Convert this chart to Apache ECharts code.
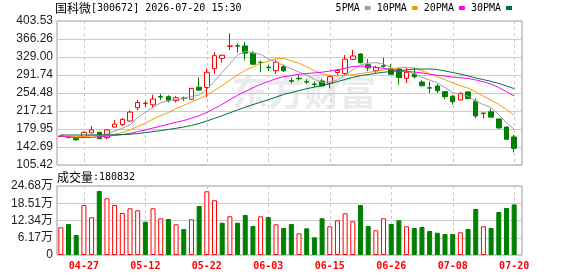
<!DOCTYPE html>
<html>
<head>
<meta charset="utf-8">
<script src="https://cdn.jsdelivr.net/npm/echarts@6/dist/echarts.min.js"></script>
<style>
  html, body { margin: 0; padding: 0; background: #ffffff; }
  #chart { width: 578px; height: 276px; }
</style>
</head>
<body>
<div id="chart"></div>
<script>
  const dates = ['04-22', '04-23', '04-24', '04-27', '04-28', '04-29', '04-30', '05-06', '05-07', '05-08',
    '05-11', '05-12', '05-13', '05-14', '05-15', '05-18', '05-19', '05-20', '05-21', '05-22',
    '05-25', '05-26', '05-27', '05-28', '05-29', '06-01', '06-02', '06-03', '06-04', '06-05',
    '06-08', '06-09', '06-10', '06-11', '06-12', '06-15', '06-16', '06-17', '06-18', '06-22',
    '06-23', '06-24', '06-25', '06-26', '06-29', '06-30', '07-01', '07-02', '07-03', '07-06',
    '07-07', '07-08', '07-09', '07-10', '07-13', '07-14', '07-15', '07-16', '07-17', '07-20']

  const opens = [164.5, 163.5, 160.5, 163.5, 172, 173, 162, 184, 189, 196.5,
    224, 232.5, 230, 247, 246.8, 238.5, 244, 241.5, 266.5, 266,
    304.8, 326.3, 351, 352.5, 352, 337, 318, 308, 300.6, 309,
    280, 285, 278, 273, 279.3, 274.6, 297, 295, 324.2, 335.2,
    313, 300.6, 311, 305, 304, 285, 293.5, 277.2, 265.5, 269,
    257.2, 247.6, 240, 256.8, 237.5, 213, 215.5, 200.7, 184, 163.5]
  const closes = [165.5, 162.5, 157.5, 173, 178, 160, 178, 190, 200, 215,
    235, 233.5, 242, 246, 238.5, 244.7, 243, 264, 260.5, 297.3,
    331.7, 332.5, 352, 351.5, 337, 314, 317.5, 307, 318.3, 300.6,
    279, 284, 277, 272, 269, 288.3, 301, 324.5, 331.1, 317.2,
    306.5, 307.2, 310, 293.2, 286.5, 297.3, 288, 269.5, 264.5, 259,
    246.8, 236.5, 253.8, 243, 207, 212, 204.5, 182, 158.6, 140]
  const lows = [163.5, 160, 156, 163, 171, 159, 159, 183, 186, 195,
    219, 226, 225, 240, 235, 235, 238, 240, 259, 246,
    293.8, 317.2, 343.5, 338, 322, 313, 297.3, 300, 294, 298,
    274.6, 280, 273, 266, 268, 265, 291, 292, 323, 316,
    300, 296, 306.9, 292, 272, 275, 285, 268, 254, 254.5,
    242, 230.3, 239, 242, 202, 202, 203.5, 181, 158, 131.5]
  const highs = [167, 166, 161.5, 174.5, 186, 174, 179, 198.5, 202.5, 218.5,
    240, 238, 251, 253, 249.7, 248, 247, 265, 287, 305.6,
    338.7, 334, 378, 357.4, 360, 341, 321.4, 313, 323.3, 313,
    287, 291, 283, 278, 284, 290.5, 304, 333, 343.5, 336.5,
    324.9, 311, 327.7, 314, 307, 307, 307, 281, 278, 273,
    258, 250.3, 256, 258, 243.5, 214, 222, 202, 185, 167.5]

  const volumes = [99100, 110900, 71500, 178900, 134900, 228900, 202800, 178900, 150200, 167000,
    159900, 119100, 167000, 131300, 128800, 109800, 93000, 127700, 175300, 227900,
    195700, 115500, 138400, 115500, 143100, 103700, 138400, 135900, 109800, 96600,
    110900, 77600, 95500, 63300, 131300, 102700, 124100, 149200, 120600, 178900,
    103700, 88400, 131300, 110900, 124100, 102700, 96600, 100200, 85900, 79800,
    75100, 75100, 81200, 93000, 164500, 102700, 96600, 153800, 168100, 180832]
  // 1 = red hollow bar, 0 = green bar
  const volUp = [1, 0, 0, 1, 1, 0, 1, 1, 1, 1,
    1, 0, 1, 1, 0, 1, 0, 1, 0, 1,
    1, 0, 1, 0, 0, 0, 1, 0, 1, 0,
    0, 1, 0, 0, 0, 1, 1, 1, 1, 0,
    0, 1, 1, 0, 0, 1, 0, 0, 0, 0,
    0, 0, 1, 0, 0, 1, 0, 0, 0, 0]

  const ma5 = [165, 164, 162.5, 164.5, 167.3, 166.2, 169.3, 175.8, 181.2, 188.6,
    203.6, 214.7, 225.1, 234.3, 239, 240.9, 242.8, 247.2, 250.1, 261.9,
    279.3, 297.2, 314.8, 333, 340.9, 337.4, 334.4, 325.4, 318.8, 311.5,
    304.5, 297.8, 291.8, 282.5, 276.2, 278.1, 281.5, 291, 302.8, 312.4,
    316.1, 317.3, 314.4, 306.8, 300.7, 298.8, 295, 286.9, 281.2, 275.7,
    265.6, 255.3, 252.1, 247.8, 237.4, 230.5, 224.1, 209.7, 192.8, 179.4]
  const ma10 = [165, 164.5, 164, 164.5, 165.5, 165.5, 166.5, 169, 172.5, 178,
    184.9, 192, 200.5, 207.8, 213.8, 222.3, 228.8, 236.2, 242.2, 250.5,
    260.1, 270, 281, 291.6, 301.4, 308.4, 315.8, 320.1, 325.9, 326.2,
    320.9, 316.1, 308.6, 300.6, 293.8, 291.3, 289.6, 291.4, 292.7, 294.3,
    297.1, 299.4, 302.7, 304.8, 306.6, 307.5, 306.2, 300.7, 294, 288.2,
    282.2, 275.1, 269.5, 264.5, 256.5, 248, 239.7, 230.9, 220.3, 208.4]
  const ma20 = [165, 163.5, 162, 162, 162.5, 163.5, 165, 166.5, 168.5, 171,
    174.5, 178, 182, 186, 190, 194, 197.5, 202.5, 207.5, 214.2,
    222.5, 231, 240.7, 249.7, 257.6, 265.3, 272.3, 278.1, 284.1, 288.3,
    290.5, 293.1, 294.8, 296.1, 297.6, 299.8, 302.7, 305.7, 309.3, 310.3,
    309, 307.7, 305.6, 302.7, 300.2, 299.4, 297.9, 296, 293.3, 291.2,
    289.6, 287.3, 286.1, 284.6, 281.5, 277.7, 272.9, 265.8, 257.2, 248.3]
  const ma30 = [167.5, 167.5, 167.4, 167.5, 167.6, 167.7, 167.8, 168, 168.2, 169,
    170.5, 172.5, 174.5, 176.5, 179, 181.5, 184, 187.5, 191.5, 196.5,
    202, 207.5, 213.5, 219.5, 225, 230.5, 235.5, 240.5, 246, 251.5,
    255.3, 259.4, 263.4, 266.7, 269.7, 274, 278.1, 282.5, 286.9, 290.3,
    292.7, 295.2, 297.4, 299, 300.6, 302.4, 303.9, 304, 304.2, 302.9,
    300.1, 296.9, 293.6, 290, 285.6, 282.2, 278.5, 274.3, 269, 263.6]

  const priceTicks = [105.42, 142.69, 179.95, 217.21, 254.48, 291.74, 329.00, 366.26, 403.53]
  const volMax = 246800
  const volStep = 61700

  const maNames = ['5PMA', '10PMA', '20PMA', '30PMA']
  const maColors = ['#a0a0a0', '#f0a000', '#ff00ff', '#00703a']
  const maData = [ma5, ma10, ma20, ma30]

  // every 8th trading day gets a date label + dashed line
  const labelIdx = dates.map((d, i) => i).filter(i => i % 8 === 3)

  const candles = dates.map((d, i) => [opens[i], closes[i], lows[i], highs[i]])
  const volBars = volumes.map((v, i) => ({
    value: v,
    itemStyle: volUp[i]
      ? { color: '#ffffff', borderColor: '#ff0000', borderWidth: 1 }
      : { color: '#008000', borderColor: '#008000', borderWidth: 1 }
  }))

  const monoFont = 'DejaVu Sans Mono'
  const cjkFont = 'Noto Sans CJK SC'

  const chart = echarts.init(document.getElementById('chart'))

  const frameXAxis = (gridIndex) => ({
    type: 'value',
    gridIndex: gridIndex,
    min: -0.5,
    max: dates.length,
    axisLine: { show: false },
    axisLabel: { show: false },
    axisTick: { show: false, customValues: labelIdx },
    splitLine: { show: true, lineStyle: { color: '#c8c8c8', type: [3, 3] } }
  })
  const frameYAxis = (gridIndex, n) => ({
    type: 'value',
    gridIndex: gridIndex,
    min: 0,
    max: n,
    interval: 1,
    axisLine: { show: false },
    axisLabel: { show: false },
    axisTick: { show: false },
    splitLine: { show: true, showMinLine: false, showMaxLine: false, lineStyle: { color: '#cccccc' } }
  })

  const titleRich = {
    c: { fontSize: 12, fontFamily: cjkFont, fontWeight: 'normal', color: '#000000' },
    a: { fontSize: 10, fontFamily: monoFont, fontWeight: 'normal', color: '#000000' }
  }

  chart.setOption({
    animation: false,
    backgroundColor: '#ffffff',
    title: [
      {
        left: 55,
        top: 2,
        padding: 0,
        text: '{c|国科微}{a|[300672] 2026-07-20 15:30}',
        textStyle: { fontWeight: 'normal', rich: titleRich }
      },
      {
        left: 57,
        top: 171,
        padding: 0,
        text: '{c|成交量}{a|:' + volumes[volumes.length - 1] + '}',
        textStyle: { fontWeight: 'normal', rich: titleRich }
      }
    ],
    legend: {
      data: maNames,
      right: 66,
      top: 3,
      padding: 0,
      align: 'right',
      icon: 'rect',
      itemWidth: 6,
      itemHeight: 4,
      itemGap: 6,
      textStyle: { fontSize: 10, fontFamily: monoFont, color: '#000000' }
    },
    graphic: [
      {
        type: 'text',
        left: 232,
        top: 74,
        z: 0,
        silent: true,
        style: {
          text: '东方财富',
          fontSize: 36,
          fontWeight: 'bold',
          fontFamily: cjkFont,
          fill: 'rgba(210, 210, 220, 0.45)'
        }
      }
    ],
    grid: [
      { left: 57, right: 60, top: 21, height: 144 },
      { left: 57, right: 60, top: 186, height: 69 },
      { left: 57, right: 56, top: 21, height: 144, show: true, borderColor: '#999999', borderWidth: 1, backgroundColor: 'transparent' },
      { left: 57, right: 56, top: 186, height: 69, show: true, borderColor: '#999999', borderWidth: 1, backgroundColor: 'transparent' }
    ],
    xAxis: [
      {
        type: 'category',
        gridIndex: 0,
        data: dates,
        show: false
      },
      {
        type: 'category',
        gridIndex: 1,
        data: dates,
        axisLine: { show: false },
        axisTick: { show: false },
        splitLine: { show: false },
        axisLabel: {
          interval: (i) => i % 8 === 3,
          color: '#ff0000',
          fontSize: 10,
          fontWeight: 'bold',
          fontFamily: monoFont,
          margin: 6
        }
      },
      frameXAxis(2),
      frameXAxis(3)
    ],
    yAxis: [
      {
        type: 'value',
        gridIndex: 0,
        min: priceTicks[0],
        max: priceTicks[priceTicks.length - 1],
        axisLine: { show: false },
        axisTick: { show: false },
        splitLine: { show: false },
        axisLabel: {
          customValues: priceTicks,
          formatter: (v) => v.toFixed(2),
          color: '#222222',
          fontSize: 12,
          fontFamily: 'Liberation Sans',
          margin: 4
        }
      },
      {
        type: 'value',
        gridIndex: 1,
        min: 0,
        max: volMax,
        interval: volStep,
        axisLine: { show: false },
        axisTick: { show: false },
        splitLine: { show: false },
        axisLabel: {
          formatter: (v) => v === 0 ? '0' : (v / 10000).toFixed(2) + '万',
          color: '#222222',
          fontSize: 12,
          fontFamily: 'Liberation Sans, Noto Sans CJK SC',
          margin: 4
        }
      },
      frameYAxis(2, 8),
      frameYAxis(3, 4)
    ],
    series: [
      {
        type: 'candlestick',
        xAxisIndex: 0,
        yAxisIndex: 0,
        data: candles,
        barWidth: 5,
        itemStyle: {
          color: '#ffffff',
          color0: '#008000',
          borderColor: '#ff0000',
          borderColor0: '#008000',
          borderWidth: 1
        }
      },
      ...maNames.map((name, k) => ({
        name: name,
        type: 'line',
        xAxisIndex: 0,
        yAxisIndex: 0,
        data: maData[k],
        showSymbol: false,
        silent: true,
        color: maColors[k],
        lineStyle: { width: 1, color: maColors[k] }
      })),
      {
        type: 'bar',
        xAxisIndex: 1,
        yAxisIndex: 1,
        data: volBars,
        barWidth: 5
      }
    ]
  })
</script>
</body>
</html>
